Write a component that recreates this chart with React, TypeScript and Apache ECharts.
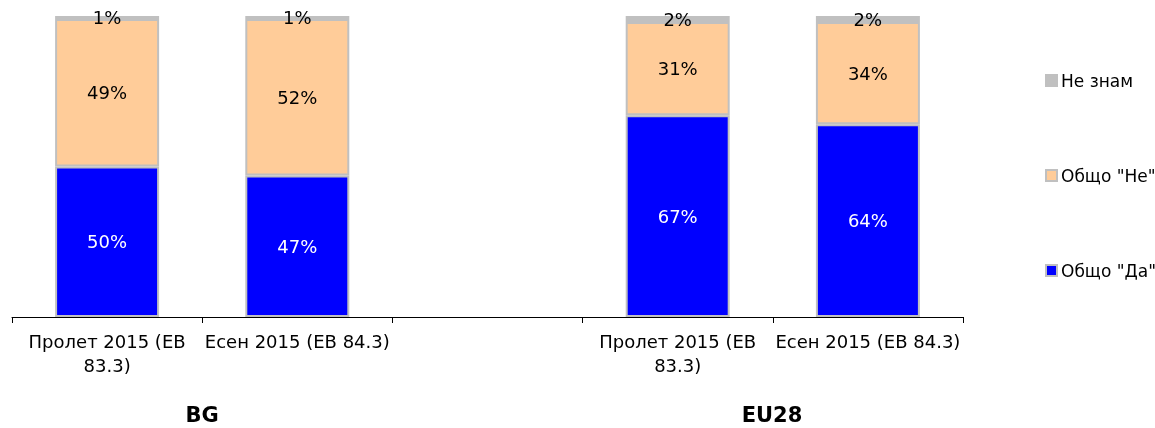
import React, { useEffect, useRef } from "react";
import * as echarts from "echarts";

const categories = [
  "Пролет 2015 (ЕВ 83.3)",
  "Есен 2015 (ЕВ 84.3)",
  "",
  "Пролет 2015 (ЕВ 83.3)",
  "Есен 2015 (ЕВ 84.3)",
];
const yesValues = [50, 47, null, 67, 64];
const noValues = [49, 52, null, 31, 34];
const dkValues = [1, 1, null, 2, 2];
const groupLabels = ["BG", "EU28"];

const FONT = "DejaVu Sans";
const LABEL_SIZE = 18;
const LABEL_MAX = 190;

let measureCtx: CanvasRenderingContext2D | null = null;
function measure(t: string): number {
  if (!measureCtx) {
    measureCtx = document.createElement("canvas").getContext("2d");
  }
  if (!measureCtx) return t.length * LABEL_SIZE * 0.6;
  measureCtx.font = `${LABEL_SIZE}px "${FONT}"`;
  return measureCtx.measureText(t).width;
}
function wrap(text: string): string {
  const words = text.split(" ");
  const lines: string[] = [];
  let cur = "";
  for (const w of words) {
    const next = cur ? cur + " " + w : w;
    if (cur && measure(next) > LABEL_MAX) {
      lines.push(cur);
      cur = w;
    } else cur = next;
  }
  if (cur) lines.push(cur);
  return lines.join("\n");
}

export default function App() {
  const ref = useRef<HTMLDivElement>(null);
  useEffect(() => {
    if (!ref.current) return;
    const chart = echarts.init(ref.current, undefined, { renderer: "svg" });
    const border = { borderColor: "#c0c0c0", borderWidth: 2 };
    const fmt = (p: any) => (p.value == null ? "" : p.value + "%");
    const legendBase = {
      orient: "vertical",
      left: 1045,
      padding: 0,
      icon: "rect",
      itemWidth: 11,
      itemHeight: 11,
      itemGap: 5,
      textStyle: { fontSize: 17, color: "#000", fontFamily: FONT, padding: [0, 0, 0, -1] },
    };
    chart.setOption({
      animation: false,
      textStyle: { fontFamily: FONT },
      grid: { left: 12, right: 192, top: 16, bottom: 111 },
      xAxis: {
        type: "category",
        data: categories,
        axisLine: { lineStyle: { color: "#000", width: 1 } },
        axisTick: { show: true, interval: 0, length: 6, lineStyle: { color: "#000" } },
        axisLabel: {
          color: "#000",
          fontSize: LABEL_SIZE,
          fontFamily: FONT,
          margin: 12,
          overflow: "none",
          lineHeight: 24,
          interval: 0,
          hideOverlap: false,
          formatter: (v: string) => wrap(v),
        },
      },
      yAxis: { type: "value", min: 0, max: 100, show: false },
      legend: [
        { ...legendBase, data: ["Не знам"], top: 72 },
        { ...legendBase, data: ['Общо "Не"'], top: 167 },
        { ...legendBase, data: ['Общо "Да"'], top: 262 },
      ],
      graphic: [
        {
          type: "text",
          x: 202,
          y: 415,
          style: {
            text: groupLabels[0],
            fontFamily: FONT,
            fontSize: 21,
            fontWeight: "bold",
            fill: "#000",
            align: "center",
            verticalAlign: "middle",
          },
        },
        {
          type: "text",
          x: 772,
          y: 415,
          style: {
            text: groupLabels[1],
            fontFamily: FONT,
            fontSize: 21,
            fontWeight: "bold",
            fill: "#000",
            align: "center",
            verticalAlign: "middle",
          },
        },
      ],
      series: [
        {
          name: 'Общо "Да"',
          type: "bar",
          stack: "s",
          barWidth: 104,
          data: yesValues,
          itemStyle: { color: "#0000ff", ...border },
          label: {
            show: true,
            position: "inside",
            formatter: fmt,
            color: "#fff",
            fontSize: 18,
            fontFamily: FONT,
          },
        },
        {
          name: 'Общо "Не"',
          type: "bar",
          stack: "s",
          barWidth: 104,
          data: noValues,
          itemStyle: { color: "#ffcc99", ...border },
          label: {
            show: true,
            position: "inside",
            formatter: fmt,
            color: "#000",
            fontSize: 18,
            fontFamily: FONT,
          },
        },
        {
          name: "Не знам",
          type: "bar",
          stack: "s",
          barWidth: 104,
          data: dkValues,
          itemStyle: { color: "#c0c0c0", ...border },
          label: {
            show: true,
            position: "inside",
            formatter: fmt,
            color: "#000",
            fontSize: 18,
            fontFamily: FONT,
          },
        },
      ],
    });
    return () => chart.dispose();
  }, []);
  return (
    <div
      ref={ref}
      style={{ position: "fixed", left: 0, top: 0, width: 1155, height: 428 }}
    />
  );
}
